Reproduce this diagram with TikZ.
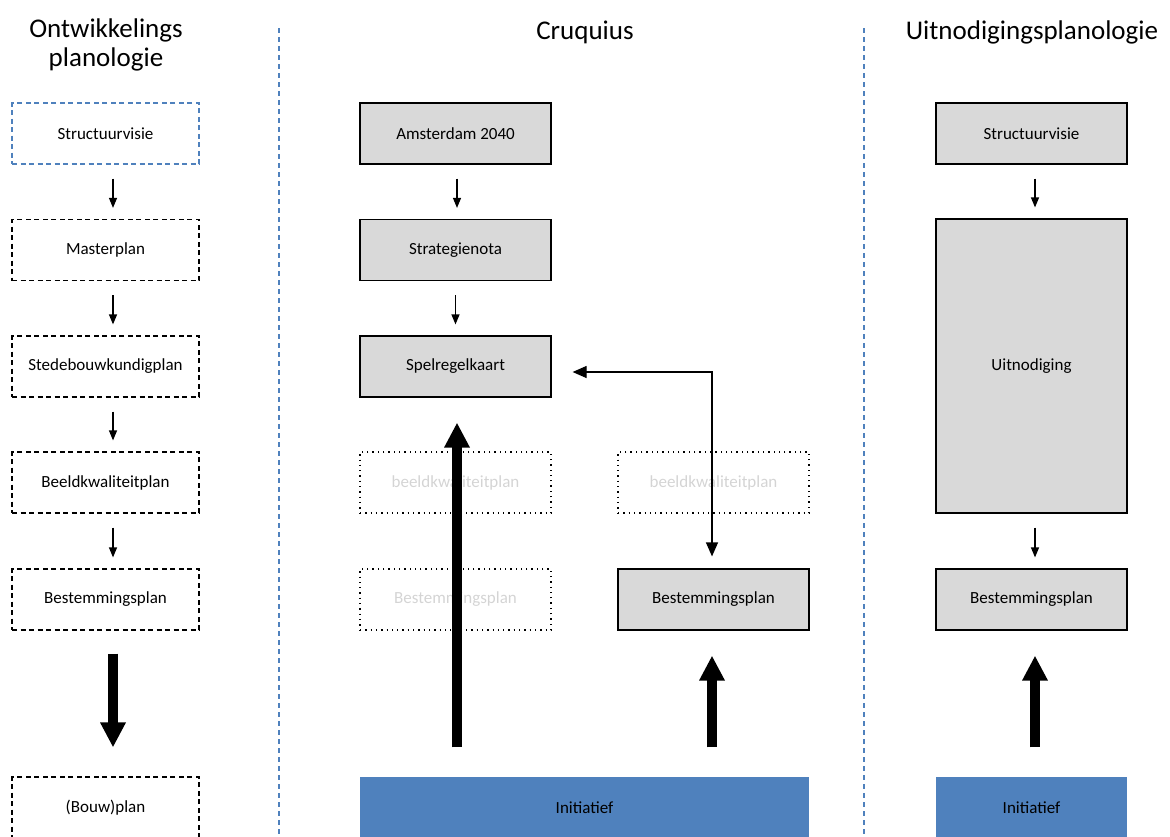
\documentclass[tikz,border=0pt]{standalone}
\usepackage{fontspec}
\setmainfont{Carlito}
\usetikzlibrary{arrows.meta}
\definecolor{accblue}{HTML}{4F81BD}
\definecolor{boxgray}{HTML}{D9D9D9}
\definecolor{fadetext}{HTML}{D4D4D4}
\tikzset{
  basebox/.style={minimum width=191pt, minimum height=61pt, inner sep=0pt, font=\fontsize{17}{20}\selectfont, line width=1.2pt},
  dashbox/.style={basebox, draw=black, dash pattern=on 5pt off 3.5pt},
  bluedashbox/.style={basebox, draw=accblue, dash pattern=on 5pt off 3.5pt},
  graybox/.style={basebox, draw=black, fill=boxgray},
  dotbox/.style={basebox, draw=black, line width=1.3pt, dash pattern=on 1.3pt off 4pt, text=fadetext},
  bluebox/.style={basebox, draw=none, fill=accblue},
  title/.style={font=\fontsize{27}{29}\selectfont, align=center},
  smallarrow/.style={-{Triangle[width=8pt,length=10pt]}, line width=1.2pt, shorten <=14pt, shorten >=11pt},
  bigarrow/.style={-{Triangle[width=24pt,length=25pt]}, line width=10pt},
  divider/.style={accblue, line width=1.2pt, dash pattern=on 5pt off 4pt},
}
\begin{document}
\begin{tikzpicture}[x=1pt,y=-1pt]
\useasboundingbox (0,0) rectangle (1170,836);
\begin{scope}
\clip (0,0) rectangle (1170,836);
% titles
\node[title] (t1) at (106,45) {Ontwikkelings\\planologie};
\node[title] (t2) at (585,32) {Cruquius};
\node[title] (t3) at (1032,32) {Uitnodigingsplanologie};
% dividers
\coordinate (d1a) at (279,28); \coordinate (d1b) at (279,836);
\coordinate (d2a) at (864,28); \coordinate (d2b) at (864,836);
\draw[divider] (d1a) -- (d1b);
\draw[divider] (d2a) -- (d2b);
% left column
\node[bluedashbox, minimum width=187pt] (l1) at (105.5,133.5) {Structuurvisie};
\node[dashbox, minimum width=187pt] (l2) at (105.5,250) {Masterplan};
\node[dashbox, minimum width=187pt] (l3) at (105.5,366.5) {Stedebouwkundigplan};
\node[dashbox, minimum width=187pt] (l4) at (105.5,482.5) {Beeldkwaliteitplan};
\node[dashbox, minimum width=187pt] (l5) at (105.5,599.5) {Bestemmingsplan};
\node[dashbox, minimum width=187pt] (l6) at (105.5,807.5) {(Bouw)plan};
\foreach \a/\b in {l1/l2,l2/l3,l3/l4,l4/l5}
  \draw[smallarrow] ([xshift=7.5pt]\a.south) -- ([xshift=7.5pt]\b.north);
\draw[bigarrow, shorten <=23pt, shorten >=29pt] ([xshift=7.5pt]l5.south) -- ([xshift=7.5pt]l6.north);
% middle column
\node[graybox] (m1) at (455.5,133.5) {Amsterdam 2040};
\node[graybox] (m2) at (455.5,250) {Strategienota};
\node[graybox] (m3) at (455.5,366.5) {Spelregelkaart};
\node[dotbox] (m4) at (455.5,482.5) {beeldkwaliteitplan};
\node[dotbox] (m5) at (455.5,599.5) {Bestemmingsplan};
\node[dotbox] (m6) at (713.5,482.5) {beeldkwaliteitplan};
\node[graybox] (m7) at (713.5,599.5) {Bestemmingsplan};
\node[bluebox, minimum width=449pt] (m8) at (584.5,807.5) {Initiatief};
\draw[smallarrow] ([xshift=1.5pt]m1.south) -- ([xshift=1.5pt]m2.north);
\draw[smallarrow] (m2.south) -- (m3.north);
\coordinate (corner) at (712,372);
\draw[{Triangle[width=12pt,length=14pt]}-{Triangle[width=12pt,length=14pt]}, line width=1.2pt, shorten <=21pt, shorten >=12pt]
  ([yshift=-5.5pt]m3.east) -- (corner) -- ([xshift=-1.5pt]m7.north);
\draw[bigarrow, shorten <=29pt, shorten >=25pt] ([xshift=1.5pt]m8.north -| m3.south) -- ([xshift=1.5pt]m3.south);
\draw[bigarrow, shorten <=29pt, shorten >=25pt] ([xshift=-1.5pt]m8.north -| m7.south) -- ([xshift=-1.5pt]m7.south);
% right column
\node[graybox] (r1) at (1031.5,133.5) {Structuurvisie};
\node[graybox, minimum height=294pt] (r2) at (1031.5,366) {Uitnodiging};
\node[graybox] (r3) at (1031.5,599.5) {Bestemmingsplan};
\node[bluebox] (r4) at (1031.5,807.5) {Initiatief};
\draw[smallarrow] ([xshift=3.5pt]r1.south) -- ([xshift=3.5pt]r2.north);
\draw[smallarrow] ([xshift=3.5pt]r2.south) -- ([xshift=3.5pt]r3.north);
\draw[bigarrow, shorten <=29pt, shorten >=25pt] ([xshift=3.5pt]r4.north) -- ([xshift=3.5pt]r3.south);
\end{scope}
\end{tikzpicture}
\end{document}
